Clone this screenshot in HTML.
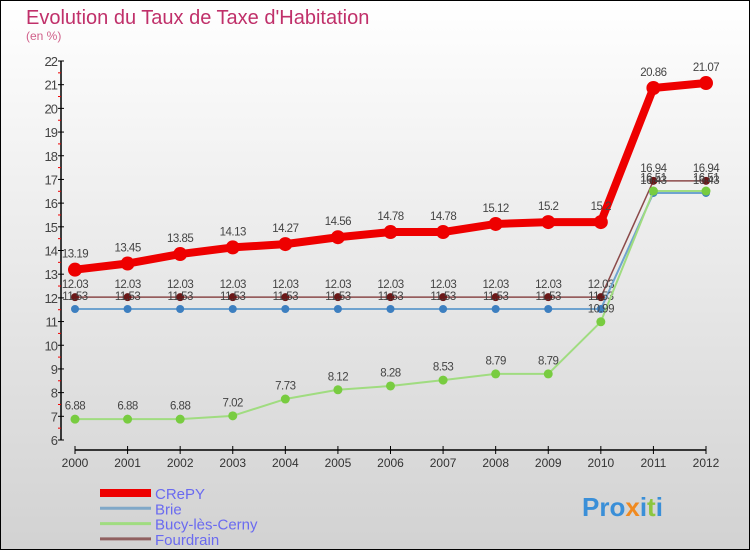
<!DOCTYPE html>
<html><head><meta charset="utf-8"><style>
html,body{margin:0;padding:0}
body{width:750px;height:550px;overflow:hidden;font-family:"Liberation Sans",sans-serif}
#wrap{position:absolute;left:0;top:0;width:748px;height:548px;border:1px solid #000;background:linear-gradient(#ffffff,#d2d2d2)}
</style></head><body>
<div id="wrap">
<svg id="chart" width="750" height="550" style="position:absolute;left:-1px;top:-1px">
<text x="26" y="24" font-size="20" fill="#c0306a">Evolution du Taux de Taxe d'Habitation</text>
<text x="26" y="40" font-size="12" fill="#d0608a">(en %)</text>
<g id="axes"></g><g id="series"></g><g id="legend"></g>
<text x="582" y="516" font-size="26" font-weight="bold" fill="#3a8fd8">Pro<tspan fill="#f08a20">x</tspan>i<tspan fill="#8cc63f">t</tspan>i</text>
</svg>
</div>
<script>
const years=[2000,2001,2002,2003,2004,2005,2006,2007,2008,2009,2010,2011,2012];
const yTicks=[6,7,8,9,10,11,12,13,14,15,16,17,18,19,20,21,22];
const seriesNames=["CRePY","Brie","Bucy-lès-Cerny","Fourdrain"];
const crepy=[13.19,13.45,13.85,14.13,14.27,14.56,14.78,14.78,15.12,15.2,15.2,20.86,21.07];
const brie=[11.53,11.53,11.53,11.53,11.53,11.53,11.53,11.53,11.53,11.53,11.53,16.43,16.43];
const bucy=[6.88,6.88,6.88,7.02,7.73,8.12,8.28,8.53,8.79,8.79,10.99,16.51,16.51];
const fourdrain=[12.03,12.03,12.03,12.03,12.03,12.03,12.03,12.03,12.03,12.03,12.03,16.94,16.94];
const NS="http://www.w3.org/2000/svg";
const X=i=>75+i*(706-75)/(years.length-1);
const Y=v=>440-(v-6)*(440-61)/16;
function mk(tag,attrs,parent,text){const e=document.createElementNS(NS,tag);for(const k in attrs)e.setAttribute(k,attrs[k]);if(text!==undefined)e.textContent=text;parent.appendChild(e);return e;}
const ax=document.getElementById('axes');
let a=mk('line',{x1:61,y1:61,x2:61,y2:440,stroke:'#000','stroke-width':1.5},ax);

a=mk('line',{x1:75,y1:450,x2:706,y2:450,stroke:'#000','stroke-width':1.5},ax);

yTicks.forEach((t,i)=>{
  mk('line',{x1:58,y1:Y(t),x2:64,y2:Y(t),stroke:'#000'},ax);
  if(i<yTicks.length-1) mk('line',{x1:58,y1:Y(t+0.5),x2:61,y2:Y(t+0.5),stroke:'#e00'},ax);
  const l=mk('text',{x:57,y:Y(t)+5,'font-size':13,'text-anchor':'end',fill:'#444','letter-spacing':'-1'},ax,t);
  
});
years.forEach((yr,i)=>{
  mk('line',{x1:X(i),y1:446,x2:X(i),y2:454,stroke:'#000'},ax);
  const l=mk('text',{x:X(i),y:467,'font-size':12,'text-anchor':'middle',fill:'#333'},ax,yr);
  
});
const sg=document.getElementById('series');
const defs=[
 {d:fourdrain,c:'#8b4a4a',w:1.5,m:'#6b1818',r:4,n:'fourdrain'},
 {d:brie,c:'#6fa3cf',w:2,m:'#3d7fc0',r:4,n:'brie'},
 {d:bucy,c:'#a0dc80',w:2,m:'#78cc40',r:4.5,n:'bucy'},
 {d:crepy,c:'#ee0000',w:8,m:'#ee0000',r:7,n:'crepy'}
];
defs.forEach(s=>{
  const g=mk('g',{},sg);
  
  const l=mk('polyline',{points:s.d.map((v,i)=>X(i)+','+Y(v)).join(' '),fill:'none',stroke:s.c,'stroke-width':s.w,'stroke-linejoin':'round'},g);
  
  s.d.forEach((v,i)=>{
    const p=mk('circle',{cx:X(i),cy:Y(v),r:s.r,fill:s.m},g);
    
    const t=mk('text',{x:X(i),y:Y(v)-(s.r+5),'font-size':11.5,'text-anchor':'middle',fill:'#444','letter-spacing':'-0.5'},g,v);
    
  });
});
const lg=document.getElementById('legend');
const lc=['#ee0000','#80a8c8','#a0dc80','#906060'],lw=[8,3,3,3];
seriesNames.forEach((n,i)=>{
  const y=493+i*15.3;
  const e=mk('g',{},lg);
  
  mk('line',{x1:100,y1:y,x2:151,y2:y,stroke:lc[i],'stroke-width':lw[i]},e);
  mk('text',{x:155,y:y+6,'font-size':15,fill:'#6a6af0'},e,n);
});
</script>
</body></html>
